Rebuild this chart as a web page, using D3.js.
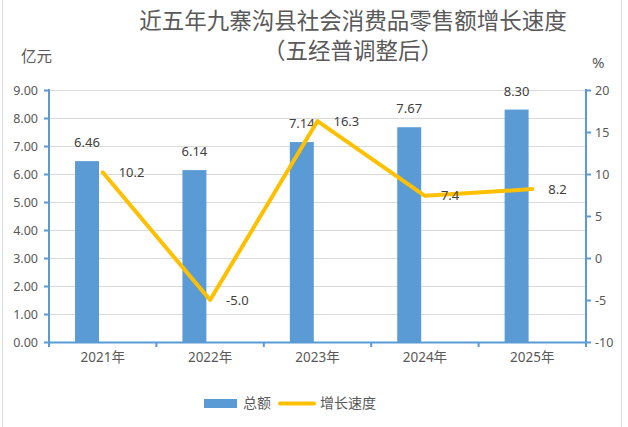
<!DOCTYPE html>
<html>
<head>
<meta charset="utf-8">
<script src="https://cdn.jsdelivr.net/npm/d3@7"></script>
<style>
  body { margin: 0; background: #fff; }
  text { font-family: "Noto Sans", "Noto Sans CJK SC", sans-serif; }
</style>
</head>
<body>
<div id="chart"></div>
<script>
// 数据
const years = ["2021年", "2022年", "2023年", "2024年", "2025年"];
const totals = [6.46, 6.14, 7.14, 7.67, 8.30];
const growth = [10.2, -5.0, 16.3, 7.4, 8.2];
const leftTicks = [0, 1, 2, 3, 4, 5, 6, 7, 8, 9];
const rightTicks = [-10, -5, 0, 5, 10, 15, 20];

drawChart();

function drawChart() {
    const W = 628, H = 427;
    const left = 49, right = 586, top = 90, bottom = 342;

    const svg = d3.select("#chart").append("svg")
        .attr("width", W)
        .attr("height", H);

    const data = years.map((y, i) => ({ year: y, total: totals[i], growth: growth[i] }));

    // 外框
    svg.append("line").attr("x1", 2.5).attr("x2", 2.5).attr("y1", 0).attr("y2", H)
        .attr("stroke", "#d9d9d9");
    svg.append("line").attr("x1", 621.5).attr("x2", 621.5).attr("y1", 0).attr("y2", H)
        .attr("stroke", "#d9d9d9");

    // 比例尺
    const x = d3.scaleBand().domain(years).range([left, right]).padding(0);
    const sub = d3.scaleBand().domain(["总额", "增长速度"])
        .range([0, x.bandwidth()]).paddingInner(0.236).paddingOuter(0.83);
    const yL = d3.scaleLinear().domain([0, 9]).range([bottom, top]);
    const yR = d3.scaleLinear().domain([-10, 20]).range([bottom, top]);

    // 网格线
    svg.append("g")
        .selectAll("line")
        .data(leftTicks.filter(d => d > 0))
        .enter().append("line")
        .attr("x1", left).attr("x2", right)
        .attr("y1", d => Math.round(yL(d)) + 0.5)
        .attr("y2", d => Math.round(yL(d)) + 0.5)
        .attr("stroke", "#d9d9d9")
        .attr("stroke-width", 1);

    // 柱子
    svg.selectAll(".bar")
        .data(data)
        .enter().append("rect")
        .attr("class", "bar")
        .attr("x", d => x(d.year) + sub("总额"))
        .attr("y", d => yL(d.total))
        .attr("width", sub.bandwidth())
        .attr("height", d => bottom - yL(d.total))
        .attr("fill", "#5b9bd5");

    // 柱子标签
    svg.selectAll(".bar-label")
        .data(data)
        .enter().append("text")
        .attr("class", "bar-label")
        .attr("x", d => x(d.year) + sub("总额") + sub.bandwidth() / 2)
        .attr("y", d => yL(d.total) - 14)
        .attr("text-anchor", "middle")
        .attr("fill", "#404040")
        .attr("font-size", 13)
        .text(d => d.total.toFixed(2));

    // 左轴
    const axisL = svg.append("g")
        .attr("transform", `translate(${left},0)`)
        .call(d3.axisLeft(yL).tickValues(leftTicks).tickFormat(d3.format(".2f"))
            .tickSize(5).tickSizeOuter(0).tickPadding(6));
    // 右轴
    const axisR = svg.append("g")
        .attr("transform", `translate(${right},0)`)
        .call(d3.axisRight(yR).tickValues(rightTicks).tickFormat(d => d)
            .tickSize(5).tickSizeOuter(0).tickPadding(4));

    [axisL, axisR].forEach(g => {
        g.select(".domain").attr("stroke", "#5b9bd5").attr("stroke-width", 2)
            .attr("d", `M0,${top - 1}V${bottom + 5}`);
        g.selectAll(".tick line").attr("stroke", "#5b9bd5").attr("stroke-width", 2);
        g.selectAll(".tick text").attr("fill", "#595959").attr("font-size", 12.5)
            .attr("font-family", "Noto Sans, sans-serif");
    });

    // X轴
    const axisX = svg.append("g")
        .attr("transform", `translate(0,${bottom})`)
        .call(d3.axisBottom(x).tickSize(0).tickSizeOuter(0).tickPadding(10));
    axisX.select(".domain").attr("stroke", "#5b9bd5").attr("stroke-width", 2);
    axisX.selectAll(".tick text").attr("fill", "#595959").attr("font-size", 13.5)
        .attr("font-family", "Noto Sans, Noto Sans CJK SC, sans-serif");

    // X轴分隔刻度
    const bounds = years.map(d => x(d)).concat([x.range()[1]]);
    axisX.selectAll(".sep")
        .data(bounds)
        .enter().append("line")
        .attr("class", "sep")
        .attr("x1", d => d).attr("x2", d => d)
        .attr("y1", 0).attr("y2", 5)
        .attr("stroke", "#5b9bd5")
        .attr("stroke-width", 2);

    // 折线
    const line = d3.line()
        .x(d => x(d.year) + x.bandwidth() / 2)
        .y(d => yR(d.growth));

    svg.append("path")
        .datum(data)
        .attr("d", line)
        .attr("fill", "none")
        .attr("stroke", "#ffc000")
        .attr("stroke-width", 4)
        .attr("stroke-linejoin", "round")
        .attr("stroke-linecap", "round");

    // 折线标签
    svg.selectAll(".line-label")
        .data(data)
        .enter().append("text")
        .attr("class", "line-label")
        .attr("x", d => x(d.year) + x.bandwidth() / 2 + 16)
        .attr("y", d => yR(d.growth))
        .attr("dy", "0.35em")
        .attr("fill", "#404040")
        .attr("font-size", 13)
        .text(d => d.growth.toFixed(1));

    // 标题
    svg.append("text")
        .attr("x", 353)
        .attr("y", 29)
        .attr("text-anchor", "middle")
        .attr("fill", "#595959")
        .attr("font-size", 22.5)
        .attr("font-family", "Noto Sans CJK SC, sans-serif")
        .text("近五年九寨沟县社会消费品零售额增长速度");
    svg.append("text")
        .attr("x", 353)
        .attr("y", 59)
        .attr("text-anchor", "middle")
        .attr("fill", "#595959")
        .attr("font-size", 22.5)
        .attr("font-family", "Noto Sans CJK SC, sans-serif")
        .text("（五经普调整后）");

    // 单位
    svg.append("text")
        .attr("x", 21)
        .attr("y", 62)
        .attr("fill", "#595959")
        .attr("font-size", 15.5)
        .attr("font-family", "Noto Sans CJK SC, sans-serif")
        .text("亿元");
    svg.append("text")
        .attr("x", 592)
        .attr("y", 68)
        .attr("fill", "#595959")
        .attr("font-size", 15)
        .text("%");

    // 图例
    const legend = svg.append("g");
    legend.append("rect")
        .attr("x", 204).attr("y", 399)
        .attr("width", 33).attr("height", 9)
        .attr("fill", "#5b9bd5");
    legend.append("text")
        .attr("x", 243).attr("y", 403.5).attr("dy", "0.35em")
        .attr("fill", "#595959").attr("font-size", 14)
        .attr("font-family", "Noto Sans CJK SC, sans-serif")
        .text("总额");
    legend.append("line")
        .attr("x1", 280).attr("x2", 314)
        .attr("y1", 403.5).attr("y2", 403.5)
        .attr("stroke", "#ffc000").attr("stroke-width", 4)
        .attr("stroke-linecap", "round");
    legend.append("text")
        .attr("x", 320).attr("y", 403.5).attr("dy", "0.35em")
        .attr("fill", "#595959").attr("font-size", 14)
        .attr("font-family", "Noto Sans CJK SC, sans-serif")
        .text("增长速度");
}
</script>
</body>
</html>
